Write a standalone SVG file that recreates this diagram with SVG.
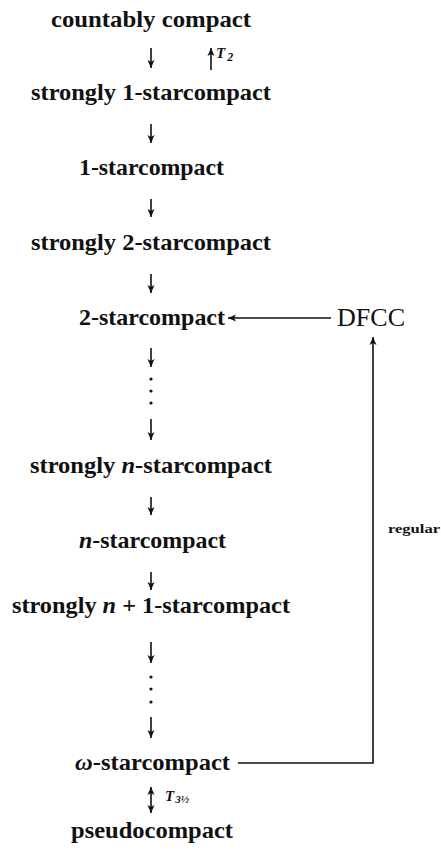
<svg xmlns="http://www.w3.org/2000/svg" width="441" height="854" viewBox="0 0 441 854">
<style>
.n{font-family:"Liberation Serif","Times New Roman",serif;font-weight:bold;font-size:24px;fill:#111;text-anchor:middle}
.i{font-style:italic}
.r{font-family:"Liberation Serif","Times New Roman",serif;font-size:25px;fill:#111}
.s{font-family:"Liberation Serif","Times New Roman",serif;font-style:italic;font-weight:bold;fill:#111}
.lbl{font-family:"Liberation Serif","Times New Roman",serif;font-weight:bold;font-size:12px;fill:#111}
.c{stroke:#111;stroke-width:1.6;fill:none}
</style>
<defs>
<marker id="ah" markerUnits="userSpaceOnUse" markerWidth="9" markerHeight="9" refX="8" refY="4" orient="auto-start-reverse">
<path d="M0,0.5 L8,4 L0,7.5 L2,4 z" fill="#111"/>
</marker>
</defs>
<g id="n-countably"><text class="n" x="151" y="27" textLength="200" lengthAdjust="spacingAndGlyphs">countably compact</text></g>
<g id="n-s1"><text class="n" x="151" y="100" textLength="240" lengthAdjust="spacingAndGlyphs">strongly 1-starcompact</text></g>
<g id="n-1"><text class="n" x="151.5" y="175" textLength="145" lengthAdjust="spacingAndGlyphs">1-starcompact</text></g>
<g id="n-s2"><text class="n" x="151" y="250" textLength="240" lengthAdjust="spacingAndGlyphs">strongly 2-starcompact</text></g>
<g id="n-2"><text class="n" x="152" y="325" textLength="146" lengthAdjust="spacingAndGlyphs">2-starcompact</text></g>
<g id="n-dfcc"><text class="r" x="337" y="326" textLength="68" lengthAdjust="spacingAndGlyphs">DFCC</text></g>
<g id="n-sn"><text class="n" x="151" y="473" textLength="242" lengthAdjust="spacingAndGlyphs">strongly <tspan class="i">n</tspan>-starcompact</text></g>
<g id="n-n"><text class="n" x="152.5" y="548" textLength="147" lengthAdjust="spacingAndGlyphs"><tspan class="i">n</tspan>-starcompact</text></g>
<g id="n-sn1"><text class="n" x="151" y="613" textLength="278" lengthAdjust="spacingAndGlyphs">strongly <tspan class="i">n</tspan> + 1-starcompact</text></g>
<g id="n-omega"><text class="n" x="152.5" y="770" textLength="155" lengthAdjust="spacingAndGlyphs"><tspan class="i">ω</tspan>-starcompact</text></g>
<g id="n-pseudo"><text class="n" x="152" y="838" textLength="162" lengthAdjust="spacingAndGlyphs">pseudocompact</text></g>
<g id="connectors">
<line class="c" x1="151" y1="48" x2="151" y2="68" marker-end="url(#ah)"/>
<line class="c" x1="211" y1="70" x2="211" y2="48" marker-end="url(#ah)"/>
<line class="c" x1="151" y1="124" x2="151" y2="143" marker-end="url(#ah)"/>
<line class="c" x1="151" y1="199" x2="151" y2="217" marker-end="url(#ah)"/>
<line class="c" x1="151" y1="274" x2="151" y2="293" marker-end="url(#ah)"/>
<line class="c" x1="331" y1="318" x2="228" y2="318" marker-end="url(#ah)"/>
<line class="c" x1="151" y1="348" x2="151" y2="367" marker-end="url(#ah)"/>
<circle cx="151" cy="379" r="1.6" fill="#111"/>
<circle cx="151" cy="391" r="1.6" fill="#111"/>
<circle cx="151" cy="403" r="1.6" fill="#111"/>
<line class="c" x1="151" y1="419" x2="151" y2="440" marker-end="url(#ah)"/>
<line class="c" x1="151" y1="497" x2="151" y2="515" marker-end="url(#ah)"/>
<line class="c" x1="151" y1="572" x2="151" y2="590" marker-end="url(#ah)"/>
<line class="c" x1="151" y1="642" x2="151" y2="663" marker-end="url(#ah)"/>
<circle cx="151" cy="677" r="1.6" fill="#111"/>
<circle cx="151" cy="689" r="1.6" fill="#111"/>
<circle cx="151" cy="702" r="1.6" fill="#111"/>
<line class="c" x1="151" y1="717" x2="151" y2="738" marker-end="url(#ah)"/>
<polyline class="c" points="238,763 373,763 373,337" marker-end="url(#ah)"/>
<line class="c" x1="151" y1="787" x2="151" y2="813" marker-start="url(#ah)" marker-end="url(#ah)"/>
</g>
<g id="labels">
<text class="s" x="216" y="58" font-size="15">T<tspan font-size="12" dx="2" dy="3">2</tspan></text>
<text class="lbl" x="388" y="533" textLength="52" lengthAdjust="spacingAndGlyphs">regular</text>
<text class="s" x="165" y="801" font-size="15">T<tspan font-size="11" dx="1" dy="2">3½</tspan></text>
</g>
</svg>
